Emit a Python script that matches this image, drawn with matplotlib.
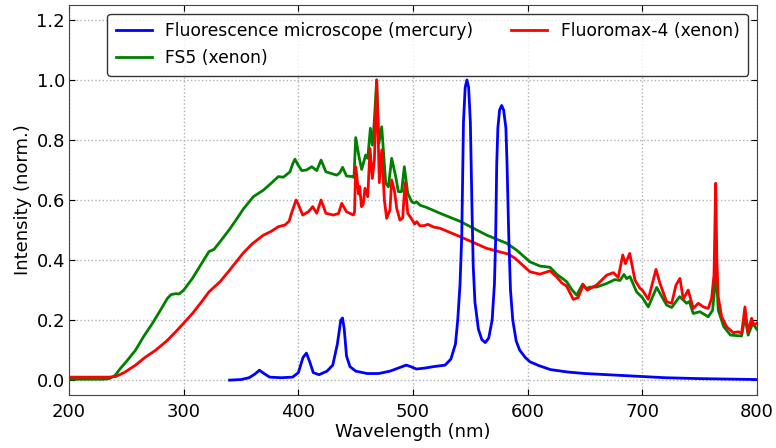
import numpy as np
import matplotlib
matplotlib.use("Agg")
import matplotlib.pyplot as plt

# --- lamp spectra (normalised) ---
hg_wl = [340, 350, 357, 362, 366, 370, 375, 385, 395, 400, 404, 407, 410, 413, 418,
         425, 430, 434, 437, 438.5, 440, 442, 445, 450, 460, 470, 480, 487, 494, 498,
         503, 510, 518, 528, 533, 537, 539, 541, 542.5, 544, 545.5, 547, 548.5, 550,
         551.5, 552.5, 554, 557, 560, 563, 566, 569, 571, 572, 573, 574, 575.5, 577.3,
         579, 581, 582, 583.5, 585, 587, 590, 593, 598, 602, 610, 620, 635, 650, 670,
         690, 700, 720, 750, 800]
hg_int = [0.0, 0.002, 0.008, 0.02, 0.033, 0.022, 0.01, 0.008, 0.01, 0.025, 0.075, 0.09,
          0.06, 0.025, 0.018, 0.03, 0.05, 0.12, 0.2, 0.207, 0.17, 0.08, 0.045, 0.03, 0.022,
          0.022, 0.03, 0.04, 0.05, 0.045, 0.037, 0.04, 0.045, 0.05, 0.07, 0.12, 0.2, 0.32,
          0.48, 0.86, 0.975, 1.0, 0.975, 0.86, 0.56, 0.38, 0.26, 0.17, 0.135, 0.125, 0.14,
          0.2, 0.32, 0.46, 0.72, 0.84, 0.9, 0.915, 0.9, 0.84, 0.72, 0.48, 0.3, 0.2, 0.13,
          0.1, 0.075, 0.061, 0.048, 0.035, 0.027, 0.022, 0.018, 0.014, 0.012, 0.008, 0.005,
          0.002]

fs5_wl = [200, 230, 235, 240, 245, 250, 258, 265, 272.7, 280, 285.7, 289, 293, 296, 300,
          307.6, 315, 322, 326.5, 331.7, 339.5, 345, 352, 360.7, 369.5, 376, 382.5, 386.9,
          392.7, 395, 397, 400, 403, 407, 411.7, 416, 419.8, 424, 433.4, 436, 438.6, 442,
          447.4, 448.5, 450, 452.9, 455.2, 458.7, 460.5, 462.8, 464.5, 466, 468.3, 470.3,
          472.7, 476.2, 478.5, 481.4, 484.9, 487.2, 490, 492.4, 495.4, 498.9, 501, 503.2,
          506, 512, 523.5, 541, 564.3, 581.7, 590.4, 602, 610.7, 619.5, 625.3, 634, 638.4,
          642.7, 648, 651, 654.4, 660, 669, 676, 680.5, 684, 686.3, 689.2, 695, 700, 705.2,
          712.5, 716, 721.2, 725.6, 732.5, 735.7, 738.6, 741, 744.4, 750.2, 757.5, 761.3,
          763, 764.2, 765.3, 766.2, 771, 776.9, 786.6, 789.5, 792.3, 796.2, 800]
fs5_int = [0.003, 0.003, 0.005, 0.015, 0.04, 0.062, 0.1, 0.145, 0.189, 0.235, 0.272, 0.285,
           0.288, 0.287, 0.3, 0.339, 0.385, 0.428, 0.436, 0.461, 0.5, 0.53, 0.57, 0.611,
           0.633, 0.655, 0.678, 0.676, 0.694, 0.72, 0.736, 0.715, 0.698, 0.7, 0.711, 0.698,
           0.733, 0.694, 0.683, 0.69, 0.709, 0.68, 0.678, 0.675, 0.808, 0.744, 0.702, 0.75,
           0.739, 0.839, 0.783, 0.85, 1.0, 0.789, 0.844, 0.656, 0.644, 0.739, 0.678, 0.628,
           0.628, 0.711, 0.622, 0.594, 0.59, 0.594, 0.583, 0.575, 0.556, 0.529, 0.483, 0.456,
           0.433, 0.394, 0.38, 0.376, 0.353, 0.328, 0.302, 0.283, 0.32, 0.305, 0.31, 0.31,
           0.322, 0.335, 0.332, 0.352, 0.338, 0.345, 0.294, 0.275, 0.244, 0.309, 0.285, 0.25,
           0.242, 0.278, 0.267, 0.256, 0.262, 0.222, 0.228, 0.211, 0.233, 0.3, 0.43, 0.3,
           0.233, 0.178, 0.15, 0.147, 0.211, 0.15, 0.189, 0.169]

fmax_wl = [200, 235, 240.7, 248, 258, 266, 275.6, 285, 293, 300, 307.6, 315, 322, 331.7,
           339.5, 352, 360, 369.5, 376, 382.5, 388.4, 392, 394, 398, 400, 403.8, 408.7,
           412.5, 416, 419.8, 424, 430.5, 435, 437.8, 442, 448, 449, 450, 451, 452.5, 453.5,
           455, 456.5, 458.1, 460.5, 462.5, 464.5, 466.3, 468.3, 470.6, 472.7, 475, 477,
           479.9, 481.4, 483.7, 485.8, 488.6, 491, 493, 495.4, 498.9, 501.5, 503.2, 506, 510,
           513, 518, 523.5, 541, 564.3, 583, 589, 602, 610.7, 619.5, 625.3, 629.7, 634,
           639.8, 644, 648.5, 652, 660.2, 669, 674.7, 679, 682.9, 685.3, 689, 693.6, 697.9,
           700, 705.2, 711.9, 715.4, 721.2, 725.6, 729.4, 732.8, 735.7, 740, 744.4, 748.8,
           753.2, 757.5, 760.4, 762.5, 764, 765, 766.2, 769.2, 773.5, 779.3, 783.7, 786.6,
           789.5, 792, 795.3, 797.4, 800]
fmax_int = [0.01, 0.01, 0.012, 0.025, 0.05, 0.075, 0.1, 0.13, 0.161, 0.19, 0.222, 0.258,
            0.294, 0.328, 0.364, 0.424, 0.455, 0.483, 0.495, 0.511, 0.517, 0.53, 0.556, 0.6,
            0.585, 0.55, 0.561, 0.578, 0.556, 0.6, 0.556, 0.55, 0.555, 0.589, 0.561, 0.55,
            0.56, 0.711, 0.68, 0.62, 0.645, 0.578, 0.585, 0.639, 0.611, 0.772, 0.672, 0.733,
            1.0, 0.658, 0.767, 0.6, 0.539, 0.567, 0.667, 0.633, 0.572, 0.533, 0.54, 0.658,
            0.556, 0.536, 0.52, 0.528, 0.514, 0.515, 0.519, 0.51, 0.506, 0.478, 0.439, 0.42,
            0.406, 0.361, 0.353, 0.364, 0.344, 0.324, 0.313, 0.269, 0.275, 0.317, 0.3, 0.317,
            0.35, 0.358, 0.342, 0.417, 0.388, 0.422, 0.333, 0.306, 0.3, 0.269, 0.369, 0.322,
            0.261, 0.256, 0.317, 0.339, 0.27, 0.3, 0.239, 0.256, 0.244, 0.239, 0.272, 0.35,
            0.656, 0.4, 0.278, 0.211, 0.178, 0.158, 0.161, 0.156, 0.244, 0.161, 0.206, 0.183,
            0.19]

# --- figure ---
fig = plt.figure(figsize=(7.76, 4.48), dpi=100)
ax = fig.add_axes([0.089, 0.118, 0.8865, 0.871])

l_fs5, = ax.plot(fs5_wl, fs5_int, color='green', lw=2, label='FS5 (xenon)')
l_fmax, = ax.plot(fmax_wl, fmax_int, color='red', lw=2, label='Fluoromax-4 (xenon)')
l_hg, = ax.plot(hg_wl, hg_int, color='blue', lw=2, label='Fluorescence microscope (mercury)')

ax.set_xlim(200, 800)
ax.set_ylim(-0.05, 1.25)
ax.set_xticks(np.arange(200, 801, 100))
ax.set_yticks(np.arange(0, 1.21, 0.2))
ax.set_xlabel('Wavelength (nm)', fontsize=13, labelpad=1)
ax.set_ylabel('Intensity (norm.)', fontsize=13, labelpad=3)
ax.tick_params(direction='in', top=True, right=True, labelsize=13, length=4, pad=3)
ax.tick_params(axis='x', pad=6)
ax.grid(True, color='#b0b0b0', linestyle=':', linewidth=1)
for s in ax.spines.values():
    s.set_color('#444444')

leg = ax.legend(handles=[l_hg, l_fs5, l_fmax], loc='upper right', ncol=2,
                bbox_to_anchor=(0.987, 0.977), borderaxespad=0, borderpad=0.5,
                fontsize=12.3, frameon=True, fancybox=True, edgecolor='black',
                handlelength=2.1, columnspacing=2.2)
leg.get_frame().set_linewidth(1)

fig.savefig('out.png', dpi=100)
